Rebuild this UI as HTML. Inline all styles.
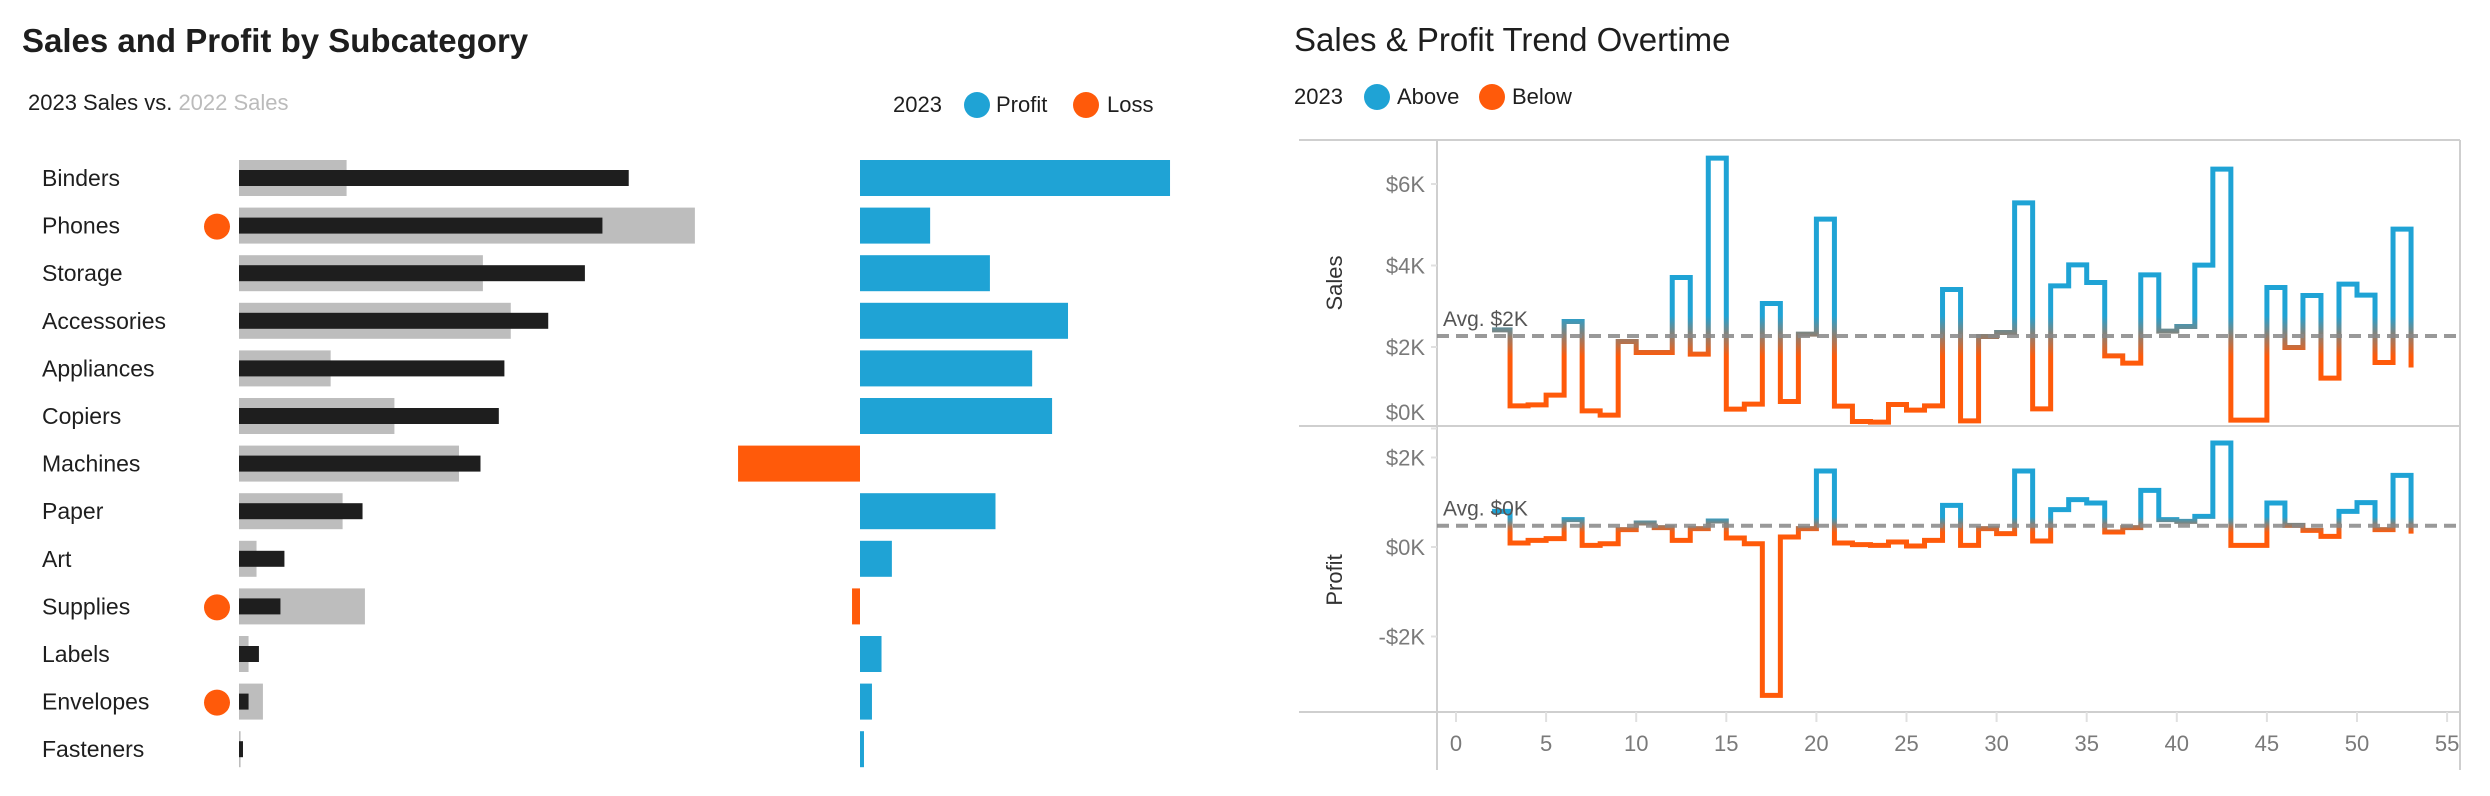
<!DOCTYPE html>
<html><head><meta charset="utf-8"><style>
html,body{margin:0;padding:0;background:#fff;}
svg{display:block;font-family:"Liberation Sans",sans-serif;}
</style></head><body>
<svg id="root" width="2490" height="796" viewBox="0 0 2490 796" xmlns="http://www.w3.org/2000/svg">
<defs>
<linearGradient id="gSales" gradientUnits="userSpaceOnUse" x1="0" x2="0" y1="0" y2="1"><stop offset="0" stop-color="#1fa3d5"/><stop offset="1" stop-color="#ff5a0a"/></linearGradient>
<linearGradient id="gProfit" gradientUnits="userSpaceOnUse" x1="0" x2="0" y1="0" y2="1"><stop offset="0" stop-color="#1fa3d5"/><stop offset="1" stop-color="#ff5a0a"/></linearGradient>
</defs>
<text x="22" y="52" font-size="33" font-weight="bold" fill="#1e1e1e">Sales and Profit by Subcategory</text>
<text x="28" y="110" font-size="22" fill="#1e1e1e">2023 Sales vs. <tspan fill="#bbbbbb">2022 Sales</tspan></text>
<g>
<text x="893" y="112" font-size="22" fill="#1e1e1e">2023</text>
<circle cx="977" cy="105" r="13" fill="#1fa3d5"/>
<text x="996" y="112" font-size="22" fill="#1e1e1e">Profit</text>
<circle cx="1086" cy="105" r="13" fill="#ff5a0a"/>
<text x="1107" y="112" font-size="22" fill="#1e1e1e">Loss</text>
</g>
<g id="bars"></g>

<text x="1294" y="51" font-size="33" fill="#1e1e1e">Sales &amp; Profit Trend Overtime</text>
<g>
<text x="1294" y="104" font-size="22" fill="#1e1e1e">2023</text>
<circle cx="1377" cy="97" r="13" fill="#1fa3d5"/>
<text x="1397" y="104" font-size="22" fill="#1e1e1e">Above</text>
<circle cx="1492" cy="97" r="13" fill="#ff5a0a"/>
<text x="1512" y="104" font-size="22" fill="#1e1e1e">Below</text>
</g>
<g id="trend"></g>
</svg>
<script>
const categories = ["Binders","Phones","Storage","Accessories","Appliances","Copiers","Machines","Paper","Art","Supplies","Labels","Envelopes","Fasteners"];
const sales2023 = [48.9,45.6,43.4,38.8,33.3,32.6,30.3,15.5,5.7,5.2,2.5,1.2,0.5];
const sales2022 = [13.5,57.2,30.6,34.1,11.5,19.5,27.6,13.0,2.2,15.8,1.2,3.0,0.2];
const profit2023 = [38.9,8.8,16.3,26.1,21.6,24.1,-15.3,17.0,4.0,-1.0,2.7,1.5,0.5];
const lossFlags = [0,1,0,0,0,0,0,0,0,1,0,1,0];

const weeks = [2,3,4,5,6,7,8,9,10,11,12,13,14,15,16,17,18,19,20,21,22,23,24,25,26,27,28,29,30,31,32,33,34,35,36,37,38,39,40,41,42,43,44,45,46,47,48,49,50,51,52,53];
const salesWeekly = [2420,556,580,818,2626,433,327,2135,1865,1865,3705,1824,6634,474,597,3067,663,2315,5137,548,172,155,589,450,556,3411,188,2258,2356,5538,483,3501,4016,3583,1783,1603,3771,2389,2503,4008,6364,205,205,3460,1988,3264,1235,3542,3272,1620,4892,1497];
const profitWeekly = [797,89,149,186,611,37,74,387,536,432,149,410,581,201,74,-3315,223,410,1698,89,52,37,112,22,149,931,37,410,298,1698,134,834,1058,983,335,432,1266,611,574,685,2324,37,37,983,484,372,238,797,991,387,1601,298];
const salesTicks = [0,2000,4000,6000];
const salesTickLabels = ["$0K","$2K","$4K","$6K"];
const profitTicks = [-2000,0,2000];
const profitTickLabels = ["-$2K","$0K","$2K"];
const xTicks = [0,5,10,15,20,25,30,35,40,45,50,55];
const salesAvg = 2270, profitAvg = 476;
const salesAvgLabel = "Avg. $2K", profitAvgLabel = "Avg. $0K";

const NS="http://www.w3.org/2000/svg";
function mk(tag,attrs,parent){const e=document.createElementNS(NS,tag);for(const k in attrs)e.setAttribute(k,attrs[k]);parent.appendChild(e);return e;}

// left bars
const bars=document.getElementById('bars');
const rowY=i=>178+i*47.6;
const sx=v=>239+v*7.97;
const px=v=>860+v*7.97;
categories.forEach((c,i)=>{
  const y=rowY(i);
  const t=mk('text',{x:42,y:y+8,'font-size':23,fill:'#1e1e1e'},bars);t.textContent=c;
  
  
  const g=mk('rect',{x:239,y:y-18,width:Math.max(1,sx(sales2022[i])-239),height:36,fill:'#bdbdbd'},bars);
  
  
  const b=mk('rect',{x:239,y:y-8,width:Math.max(1,sx(sales2023[i])-239),height:16,fill:'#1e1e1e'},bars);
  
  
  const pv=profit2023[i];
  const p=mk('rect',{x:Math.min(px(0),px(pv)),y:y-18,width:Math.max(2,Math.abs(px(pv)-px(0))),height:36,fill:pv<0?'#ff5a0a':'#1fa3d5'},bars);
  
  
  if(lossFlags[i]){
    const d=mk('circle',{cx:217,cy:y+1,r:13,fill:'#ff5a0a'},bars);
    
    
  }
});

// trend
const tr=document.getElementById('trend');
const L=1437,R=2460;
const xs=t=>1456+t*18.02;
const ys=v=>428.5-v*0.04075;
const yp=v=>547-v*0.04475;
// frame
[[1299,140,R,140],[1299,426,R,426],[1299,712,R,712],[L,140,L,770],[R,140,R,770]].forEach(a=>{
  const l=mk('line',{x1:a[0],y1:a[1],x2:a[2],y2:a[3],stroke:'#cfcfcf','stroke-width':2},tr);
  
  
});
function yAxis(ticks,labels,f,name,maxY){
  ticks.forEach((v,i)=>{
    mk('line',{x1:L-6,x2:L,y1:f(v),y2:f(v),stroke:'#e0e0e0','stroke-width':2},tr);
    const t=mk('text',{x:L-12,y:Math.min(f(v)+8,maxY),'font-size':22,fill:'#7a7a7a','text-anchor':'end'},tr);
    t.textContent=labels[i];
    
    
  });
}
yAxis(salesTicks,salesTickLabels,ys,'sales',420);
yAxis(profitTicks,profitTickLabels,yp,'profit',705);
xTicks.forEach(v=>{
  mk('line',{x1:xs(v),x2:xs(v),y1:712,y2:722,stroke:'#e0e0e0','stroke-width':2},tr);
  const t=mk('text',{x:xs(v),y:751,'font-size':22,fill:'#7a7a7a','text-anchor':'middle'},tr);
  t.textContent=v;
  
  
});
const st=mk('text',{transform:'translate(1342,283) rotate(-90)','font-size':22,fill:'#333','text-anchor':'middle'},tr);
st.textContent='Sales';


const pt=mk('text',{transform:'translate(1342,580) rotate(-90)','font-size':22,fill:'#333','text-anchor':'middle'},tr);
pt.textContent='Profit';



function stepPath(vals,f){
  let d='';
  weeks.forEach((w,i)=>{
    const y=f(vals[i]);
    d+=(i===0?'M':'L')+xs(w)+','+y;
    if(i<weeks.length-1)d+='L'+xs(w+1)+','+y;
  });
  return d;
}
const gS=document.getElementById('gSales');gS.setAttribute('y1',ys(salesAvg+500));gS.setAttribute('y2',ys(salesAvg-500));
const gP=document.getElementById('gProfit');gP.setAttribute('y1',yp(profitAvg+200));gP.setAttribute('y2',yp(profitAvg-150));
const sl=mk('path',{d:stepPath(salesWeekly,ys),fill:'none',stroke:'url(#gSales)','stroke-width':5},tr);


const pl=mk('path',{d:stepPath(profitWeekly,yp),fill:'none',stroke:'url(#gProfit)','stroke-width':5},tr);


const sa=mk('line',{x1:L,x2:R,y1:ys(salesAvg),y2:ys(salesAvg),stroke:'#888','stroke-width':4,'stroke-dasharray':'12 7','opacity':0.85},tr);


const pa=mk('line',{x1:L,x2:R,y1:yp(profitAvg),y2:yp(profitAvg),stroke:'#888','stroke-width':4,'stroke-dasharray':'12 7','opacity':0.85},tr);


const sal=mk('text',{x:1443,y:ys(salesAvg)-10,'font-size':21,fill:'#555'},tr);
sal.textContent=salesAvgLabel;


const pal=mk('text',{x:1443,y:yp(profitAvg)-10,'font-size':21,fill:'#555'},tr);
pal.textContent=profitAvgLabel;


</script>
</body></html>
